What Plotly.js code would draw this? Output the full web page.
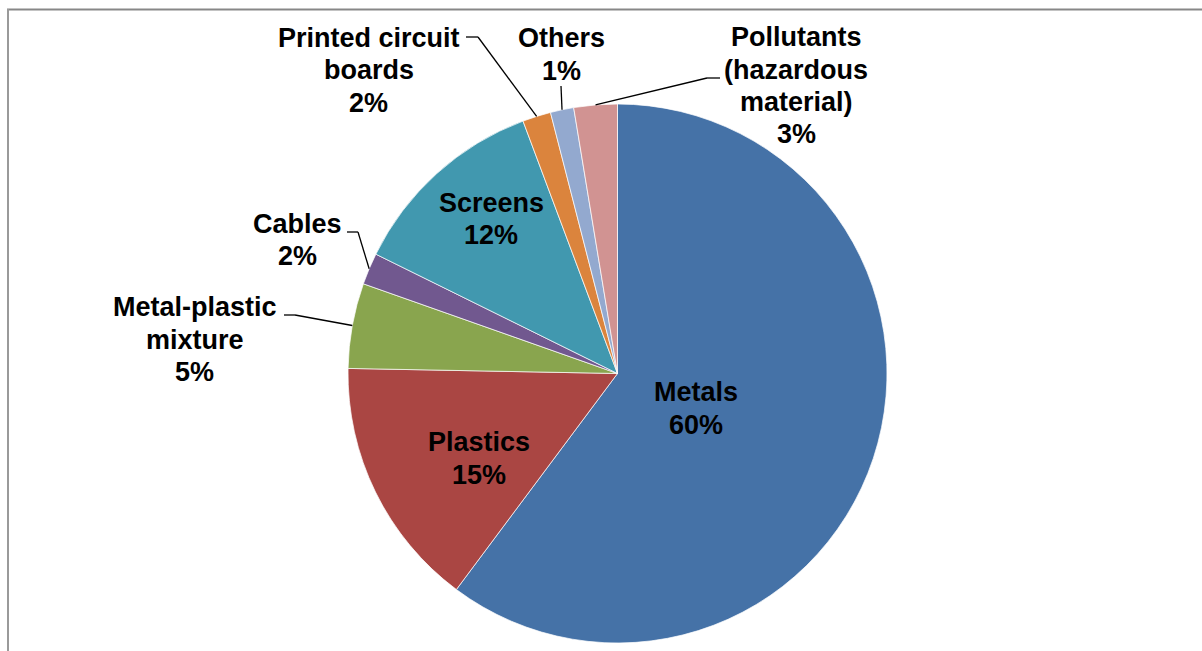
<!DOCTYPE html>
<html>
<head>
<meta charset="utf-8">
<script src="https://cdn.plot.ly/plotly-3.0.1.min.js"></script>
<style>html,body{margin:0;padding:0;background:#fff;}#chart{width:1202px;height:651px;}</style>
</head>
<body>
<div id="chart"></div>
<script>
// ---- data ----
const categories = ["Metals", "Plastics", "Metal-plastic mixture", "Cables", "Screens", "Printed circuit boards", "Others", "Pollutants (hazardous material)"];
const values = [60.2, 15.1, 5.1, 1.9, 12.0, 1.7, 1.4, 2.6];
const colors = ["#4572A7", "#AA4643", "#89A54E", "#71588F", "#4198AF", "#DB843D", "#93A9CF", "#D19392"];
// label lines (text split as displayed)
const labelLines = [
  ["Metals"], ["Plastics"], ["Metal-plastic", "mixture"], ["Cables"], ["Screens"],
  ["Printed circuit", "boards"], ["Others"], ["Pollutants", "(hazardous", "material)"]
];

// ---- layout constants (pixels) ----
const W = 1202, H = 651;
const CX = 617.5, CY = 373.5, R = 269.5;
const FS = 27, LS = 32.5;
// label first-line centre positions
const labelPos = [
  [696, 392], [478.5, 442], [194.5, 307], [297, 223.5], [491, 203],
  [368.5, 37.5], [561, 38], [796, 37]
];
// leader lines: start + elbow (null if none), slice index
const leaders = [
  {i: 5, pts: [[466, 37], [478, 37]]},
  {i: 6, pts: [[561, 86]]},
  {i: 7, pts: [[720, 78], [707, 78]]},
  {i: 3, pts: [[347, 232], [358, 232]]},
  {i: 2, pts: [[284, 315], [295, 315]]}
];

const px = x => x / W;
const py = y => 1 - y / H;

const total = values.reduce((a, b) => a + b, 0);
const pct = values.map(v => Math.round(v / total * 100) + "%");

// slice mid-angle anchors on the pie edge (clockwise from 12 o'clock)
const anchors = [];
let cum = 0;
values.forEach(v => {
  const mid = (cum + v / 2) / total * 2 * Math.PI;
  anchors.push([CX + R * Math.sin(mid), CY - R * Math.cos(mid)]);
  cum += v;
});

const annotations = [];
categories.forEach((c, i) => {
  const lines = labelLines[i].concat([pct[i]]);
  lines.forEach((t, k) => {
    annotations.push({
      x: px(labelPos[i][0]), y: py(labelPos[i][1] + k * LS),
      xref: "paper", yref: "paper", xanchor: "center", yanchor: "middle",
      text: "<b>" + t + "</b>", showarrow: false,
      font: {family: "Liberation Sans, Arial, sans-serif", size: FS, color: "#000"}
    });
  });
});

const shapes = [
  {type: "line", xref: "paper", yref: "paper", x0: px(7), y0: py(9.5), x1: px(1202), y1: py(9.5), line: {color: "#878787", width: 2}},
  {type: "line", xref: "paper", yref: "paper", x0: px(8), y0: py(9), x1: px(8), y1: py(651), line: {color: "#9a9a9a", width: 2}}
];
leaders.forEach(L => {
  const pts = L.pts.concat([anchors[L.i]]);
  for (let k = 0; k < pts.length - 1; k++) {
    shapes.push({type: "line", xref: "paper", yref: "paper",
      x0: px(pts[k][0]), y0: py(pts[k][1]), x1: px(pts[k + 1][0]), y1: py(pts[k + 1][1]),
      line: {color: "#000", width: 1.3}});
  }
});

const trace = {
  type: "pie",
  labels: categories,
  values: values,
  sort: false,
  direction: "clockwise",
  rotation: 0,
  textinfo: "none",
  hoverinfo: "label+percent",
  marker: {colors: colors, line: {color: "rgba(255,255,255,0.7)", width: 1}},
  domain: {x: [px(CX - R), px(CX + R)], y: [py(CY + R), py(CY - R)]},
  showlegend: false
};

const layout = {
  width: W, height: H,
  margin: {l: 0, r: 0, t: 0, b: 0},
  paper_bgcolor: "#fff",
  showlegend: false,
  annotations: annotations,
  shapes: shapes
};

Plotly.newPlot("chart", [trace], layout, {displayModeBar: false, staticPlot: true});
</script>
</body>
</html>
